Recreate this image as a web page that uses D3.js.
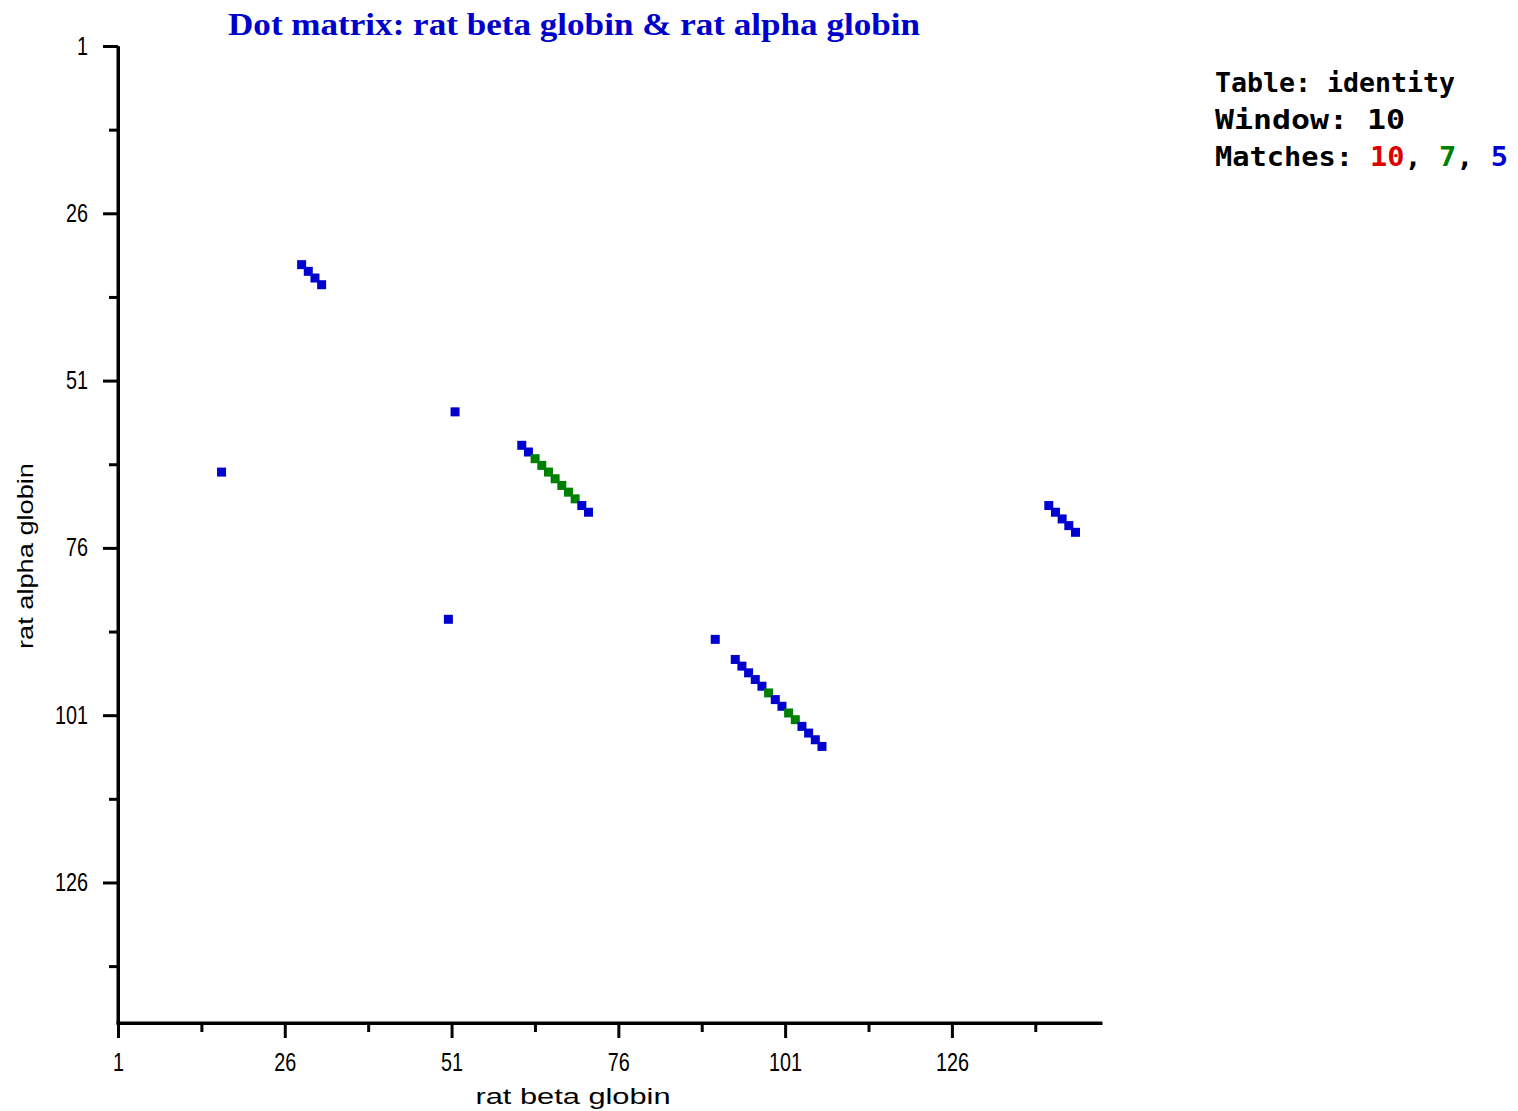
<!DOCTYPE html>
<html>
<head>
<meta charset="utf-8">
<script src="https://cdn.jsdelivr.net/npm/d3@7"></script>
<style>
  html, body { margin: 0; padding: 0; background: #fff; }
  svg { display: block; }
</style>
</head>
<body>
<svg id="chart" width="1518" height="1111"></svg>
<script>
// ---- data ----
const titleText = "Dot matrix: rat beta globin & rat alpha globin";
const xLabel = "rat beta globin";
const yLabel = "rat alpha globin";
const xTickValues = [1, 26, 51, 76, 101, 126];
const yTickValues = [1, 26, 51, 76, 101, 126];
const xMinorTicks = [13.5, 38.5, 63.5, 88.5, 113.5, 138.5];
const yMinorTicks = [13.5, 38.5, 63.5, 88.5, 113.5, 138.5];
const xDomain = [1, 148.5];
const yDomain = [1, 147];
// dots: residue position in beta (x), alpha (y), match level (5 or 7)
const betaPos  = [28,29,30,31, 16, 51, 50, 61,62,63,64,65,66,67,68,69,70,71, 90, 93,94,95,96,97,98,99,100,101,102,103,104,105,106, 140,141,142,143,144];
const alphaPos = [33,34,35,36, 64, 55, 86, 60,61,62,63,64,65,66,67,68,69,70, 89, 92,93,94,95,96,97,98,99,100,101,102,103,104,105, 69,70,71,72,73];
const matchLvl = [5,5,5,5, 5, 5, 5, 5,5,7,7,7,7,7,7,7,5,5, 5, 5,5,5,5,5,7,5,5,7,7,5,5,5,5, 5,5,5,5,5];
const legendLines = ["Table: identity", "Window: 10"];
const matchLevels = [10, 7, 5];
const levelColors = {10: "#dd0000", 7: "#008000", 5: "#0000d0"};

// ---- layout ----
const svg = d3.select("#chart");
const X0 = 118, X1 = 1102, Y0 = 46, Y1 = 1023;
const x = d3.scaleLinear().domain(xDomain).range([X0, X1]);
const y = d3.scaleLinear().domain(yDomain).range([Y0, Y1]);
const tickFont = "'Liberation Sans', Arial, sans-serif";

// title
svg.append("text")
  .attr("x", 574).attr("y", 35)
  .attr("text-anchor", "middle")
  .attr("font-family", "'Liberation Serif', 'Times New Roman', serif")
  .attr("font-weight", "bold")
  .attr("font-size", 31)
  .attr("fill", "#0000cc")
  .attr("textLength", 692).attr("lengthAdjust", "spacingAndGlyphs")
  .text(titleText);

// x axis
const gx = svg.append("g").attr("transform", `translate(0,${Y1})`)
  .call(d3.axisBottom(x).tickValues(xTickValues).tickFormat(d3.format("d"))
    .tickSize(15).tickSizeOuter(0).tickPadding(15));
const gxm = svg.append("g").attr("transform", `translate(0,${Y1})`)
  .call(d3.axisBottom(x).tickValues(xMinorTicks).tickFormat("").tickSize(9).tickSizeOuter(0));
// y axis
const gy = svg.append("g").attr("transform", `translate(${X0},0)`)
  .call(d3.axisLeft(y).tickValues(yTickValues).tickFormat(d3.format("d"))
    .tickSize(15).tickSizeOuter(0).tickPadding(15));
const gym = svg.append("g").attr("transform", `translate(${X0},0)`)
  .call(d3.axisLeft(y).tickValues(yMinorTicks).tickFormat("").tickSize(9).tickSizeOuter(0));

[gx, gxm, gy, gym].forEach(g => {
  g.selectAll("path.domain").attr("stroke", "#000").attr("stroke-width", 3);
  g.selectAll(".tick line").attr("stroke", "#000").attr("stroke-width", 3);
  g.selectAll(".tick text")
    .attr("font-family", tickFont).attr("font-size", 25).attr("fill", "#000")
    .attr("textLength", function() { return this.textContent.length * 11; })
    .attr("lengthAdjust", "spacingAndGlyphs");
});
// extend domain lines slightly so corners meet
gx.select("path.domain").attr("d", `M${X0 - 1.5},0H${X1}`);
gy.select("path.domain").attr("d", `M0,${Y0}V${Y1 + 1.5}`);

// axis titles
svg.append("text")
  .attr("x", 573).attr("y", 1104)
  .attr("text-anchor", "middle")
  .attr("font-family", "'Liberation Sans', Arial, sans-serif")
  .attr("font-size", 22)
  .attr("textLength", 195).attr("lengthAdjust", "spacingAndGlyphs")
  .text(xLabel);
svg.append("text")
  .attr("transform", "translate(33,556) rotate(-90)")
  .attr("text-anchor", "middle")
  .attr("font-family", "'Liberation Sans', Arial, sans-serif")
  .attr("font-size", 22)
  .attr("textLength", 186).attr("lengthAdjust", "spacingAndGlyphs")
  .text(yLabel);

// dots
const dots = betaPos.map((b, i) => ({b, a: alphaPos[i], lvl: matchLvl[i]}));
svg.append("g").selectAll("rect").data(dots).join("rect")
  .attr("x", d => x(d.b) - 1)
  .attr("y", d => y(d.a))
  .attr("width", 9).attr("height", 9)
  .attr("fill", d => levelColors[d.lvl]);

// legend
const legFont = "'DejaVu Sans Mono', 'Liberation Mono', monospace";
const legWidths = [240, 190];
legendLines.forEach((t, i) => {
  svg.append("text")
    .attr("x", 1215).attr("y", 92 + i * 37)
    .attr("font-family", legFont).attr("font-weight", "bold").attr("font-size", 27)
    .attr("fill", "#000")
    .attr("textLength", legWidths[i]).attr("lengthAdjust", "spacingAndGlyphs")
    .text(t);
});
const mt = svg.append("text")
  .attr("x", 1215).attr("y", 166)
  .attr("font-family", legFont).attr("font-weight", "bold").attr("font-size", 27)
  .attr("fill", "#000")
  .attr("textLength", 293).attr("lengthAdjust", "spacingAndGlyphs");
mt.append("tspan").text("Matches: ");
matchLevels.forEach((m, i) => {
  mt.append("tspan").attr("fill", levelColors[m]).text(String(m));
  if (i < matchLevels.length - 1) mt.append("tspan").attr("fill", "#000").text(", ");
});
</script>
</body>
</html>
